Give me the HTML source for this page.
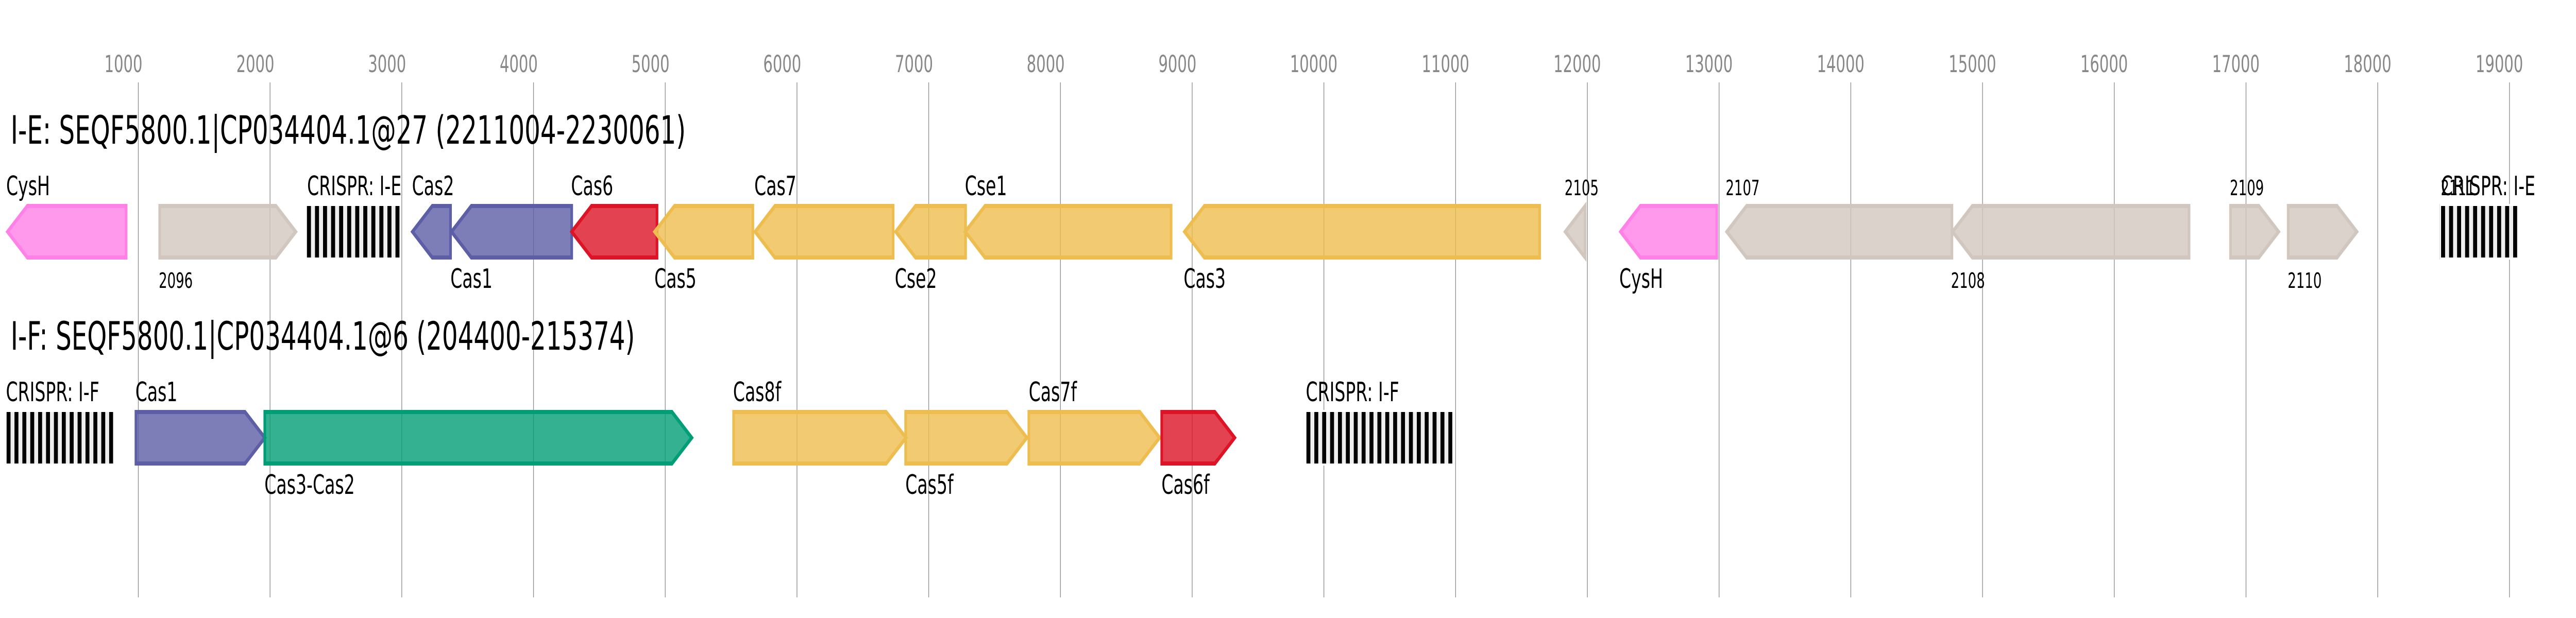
<!DOCTYPE html>
<html>
<head>
<meta charset="utf-8">
<title>CRISPR-Cas loci</title>
<style>
html,body{margin:0;padding:0;background:#fff;width:100%;height:100%;overflow:hidden}
svg{display:block;width:100vw;height:100vh}
text{font-family:"DejaVu Sans","Liberation Sans",sans-serif;fill:#000}
.t{font-size:45.4px;fill:#888}
.h{font-size:75.6px}
.l{font-size:51.8px}
.s{font-size:40.6px}
.g{stroke-width:8;fill-opacity:.8;stroke-linejoin:miter}
.go{fill:#eebd4f;stroke:#eebd4f}
.bl{fill:#5c5ea6;stroke:#5c5ea6}
.re{fill:#dc1426;stroke:#dc1426}
.gr{fill:#009e76;stroke:#009e76}
.ta{fill:#d2c7bf;stroke:#d2c7bf}
.pi{fill:#ff80e6;stroke:#ff80e6}
</style>
</head>
<body>
<svg xmlns="http://www.w3.org/2000/svg" viewBox="0 0 7822 1200" preserveAspectRatio="none">
<rect width="7822" height="1200" fill="#fff"/>
<g stroke="#888" stroke-width="2">
<line x1="420" y1="160" x2="420" y2="1160"/><line x1="820" y1="160" x2="820" y2="1160"/><line x1="1220" y1="160" x2="1220" y2="1160"/><line x1="1620" y1="160" x2="1620" y2="1160"/><line x1="2020" y1="160" x2="2020" y2="1160"/><line x1="2420" y1="160" x2="2420" y2="1160"/><line x1="2820" y1="160" x2="2820" y2="1160"/><line x1="3220" y1="160" x2="3220" y2="1160"/><line x1="3620" y1="160" x2="3620" y2="1160"/><line x1="4020" y1="160" x2="4020" y2="1160"/><line x1="4420" y1="160" x2="4420" y2="1160"/><line x1="4820" y1="160" x2="4820" y2="1160"/><line x1="5220" y1="160" x2="5220" y2="1160"/><line x1="5620" y1="160" x2="5620" y2="1160"/><line x1="6020" y1="160" x2="6020" y2="1160"/><line x1="6420" y1="160" x2="6420" y2="1160"/><line x1="6820" y1="160" x2="6820" y2="1160"/><line x1="7220" y1="160" x2="7220" y2="1160"/><line x1="7620" y1="160" x2="7620" y2="1160"/>
</g>
<g class="t">
<text class="t" x="317" y="140">1000</text><text class="t" x="717.500" y="140">2000</text><text class="t" x="1117.500" y="140">3000</text><text class="t" x="1517.500" y="140">4000</text><text class="t" x="1917.500" y="140">5000</text><text class="t" x="2317.500" y="140">6000</text><text class="t" x="2717.500" y="140">7000</text><text class="t" x="3117.500" y="140">8000</text><text class="t" x="3517.500" y="140">9000</text><text class="t" x="3917" y="140">10000</text><text class="t" x="4317" y="140">11000</text><text class="t" x="4717" y="140">12000</text><text class="t" x="5117" y="140">13000</text><text class="t" x="5517" y="140">14000</text><text class="t" x="5917" y="140">15000</text><text class="t" x="6317" y="140">16000</text><text class="t" x="6717" y="140">17000</text><text class="t" x="7117" y="140">18000</text><text class="t" x="7517" y="140">19000</text>
</g>

<text class="h" x="32.400" y="279">I-E: SEQF5800.1|CP034404.1@27 (2211004-2230061)</text>

<polygon class="g pi" points="23,450 83,400 383,400 383,500 83,500"/>
<polygon class="g ta" points="485,400 838,400 898,450 838,500 485,500"/>
<rect x="928" y="396" width="289" height="108" fill="#fff"/>
<rect x="932" y="400" width="281" height="100" fill="#eee"/>
<line x1="932" y1="450" x2="1213" y2="450" stroke="#000" stroke-width="100" stroke-dasharray="12.22"/>
<polygon class="g bl" points="1252.500,450 1312.500,400 1368,400 1368,500 1312.500,500"/>
<polygon class="g bl" points="1371,450 1431,400 1736,400 1736,500 1431,500"/>
<polygon class="g re" points="1736,450 1796,400 1995,400 1995,500 1796,500"/>
<polygon class="g go" points="1988,450 2048,400 2286,400 2286,500 2048,500"/>
<polygon class="g go" points="2293,450 2353,400 2712,400 2712,500 2353,500"/>
<polygon class="g go" points="2720,450 2780,400 2932,400 2932,500 2780,500"/>
<polygon class="g go" points="2931,450 2991,400 3556,400 3556,500 2991,500"/>
<polygon class="g go" points="3597,450 3657,400 4675,400 4675,500 3657,500"/>
<polygon class="g ta" points="4753,450 4813,400 4813,500"/>
<polygon class="g pi" points="4921,450 4981,400 5213,400 5213,500 4981,500"/>
<polygon class="g ta" points="5243.500,450 5303.500,400 5927,400 5927,500 5303.500,500"/>
<polygon class="g ta" points="5929,450 5989,400 6647,400 6647,500 5989,500"/>
<polygon class="g ta" points="6773,400 6859,400 6919,450 6859,500 6773,500"/>
<polygon class="g ta" points="6948,400 7096.500,400 7156.500,450 7096.500,500 6948,500"/>
<polygon class="g ta" points="7411.300,400 7430,400 7440,450 7430,500 7411.300,500"/>
<rect x="7408.300" y="396" width="239" height="108" fill="#fff"/>
<rect x="7412.300" y="400" width="231" height="100" fill="#eee"/>
<line x1="7412.300" y1="450" x2="7643.300" y2="450" stroke="#000" stroke-width="100" stroke-dasharray="12.16"/>

<text class="l" x="18.800" y="379">CysH</text>
<text class="l" x="932.500" y="379">CRISPR: I-E</text>
<text class="l" x="1251" y="379">Cas2</text>
<text class="l" x="1734" y="379">Cas6</text>
<text class="l" x="2290.500" y="379">Cas7</text>
<text class="l" x="2929.700" y="379">Cse1</text>
<text class="s" x="4751" y="379">2105</text>
<text class="s" x="5240" y="379">2107</text>
<text class="s" x="6771" y="379">2109</text>
<text class="s" x="7411.400" y="379">2111</text>
<text class="l" x="7412" y="379">CRISPR: I-E</text>

<text class="s" x="482" y="559">2096</text>
<text class="l" x="1367.700" y="559">Cas1</text>
<text class="l" x="1987" y="559">Cas5</text>
<text class="l" x="2717" y="559">Cse2</text>
<text class="l" x="3594" y="559">Cas3</text>
<text class="l" x="4917" y="559">CysH</text>
<text class="s" x="5924" y="559">2108</text>
<text class="s" x="6946.500" y="559">2110</text>

<text class="h" x="32.400" y="679">I-F: SEQF5800.1|CP034404.1@6 (204400-215374)</text>

<rect x="16" y="796" width="331.400" height="108" fill="#fff"/>
<rect x="20" y="800" width="323.400" height="100" fill="#eee"/>
<line x1="20" y1="850" x2="343.400" y2="850" stroke="#000" stroke-width="100" stroke-dasharray="11.98"/>
<polygon class="g bl" points="412.800,800 744,800 804,850 744,900 412.800,900"/>
<polygon class="g gr" points="804,800 2040.500,800 2100.500,850 2040.500,900 804,900"/>
<polygon class="g go" points="2227.600,800 2691,800 2751,850 2691,900 2227.600,900"/>
<polygon class="g go" points="2750,800 3058,800 3118,850 3058,900 2750,900"/>
<polygon class="g go" points="3124,800 3461,800 3521,850 3461,900 3124,900"/>
<polygon class="g re" points="3527.600,800 3689,800 3749,850 3689,900 3527.600,900"/>
<rect x="3963" y="796" width="451" height="108" fill="#fff"/>
<rect x="3967" y="800" width="443" height="100" fill="#eee"/>
<line x1="3967" y1="850" x2="4410" y2="850" stroke="#000" stroke-width="100" stroke-dasharray="11.97"/>

<text class="l" x="18" y="779">CRISPR: I-F</text>
<text class="l" x="411" y="779">Cas1</text>
<text class="l" x="2226" y="779">Cas8f</text>
<text class="l" x="3123.700" y="779">Cas7f</text>
<text class="l" x="3965" y="779">CRISPR: I-F</text>

<text class="l" x="803" y="959">Cas3-Cas2</text>
<text class="l" x="2749" y="959">Cas5f</text>
<text class="l" x="3526.700" y="959">Cas6f</text>
</svg>
</body>
</html>
